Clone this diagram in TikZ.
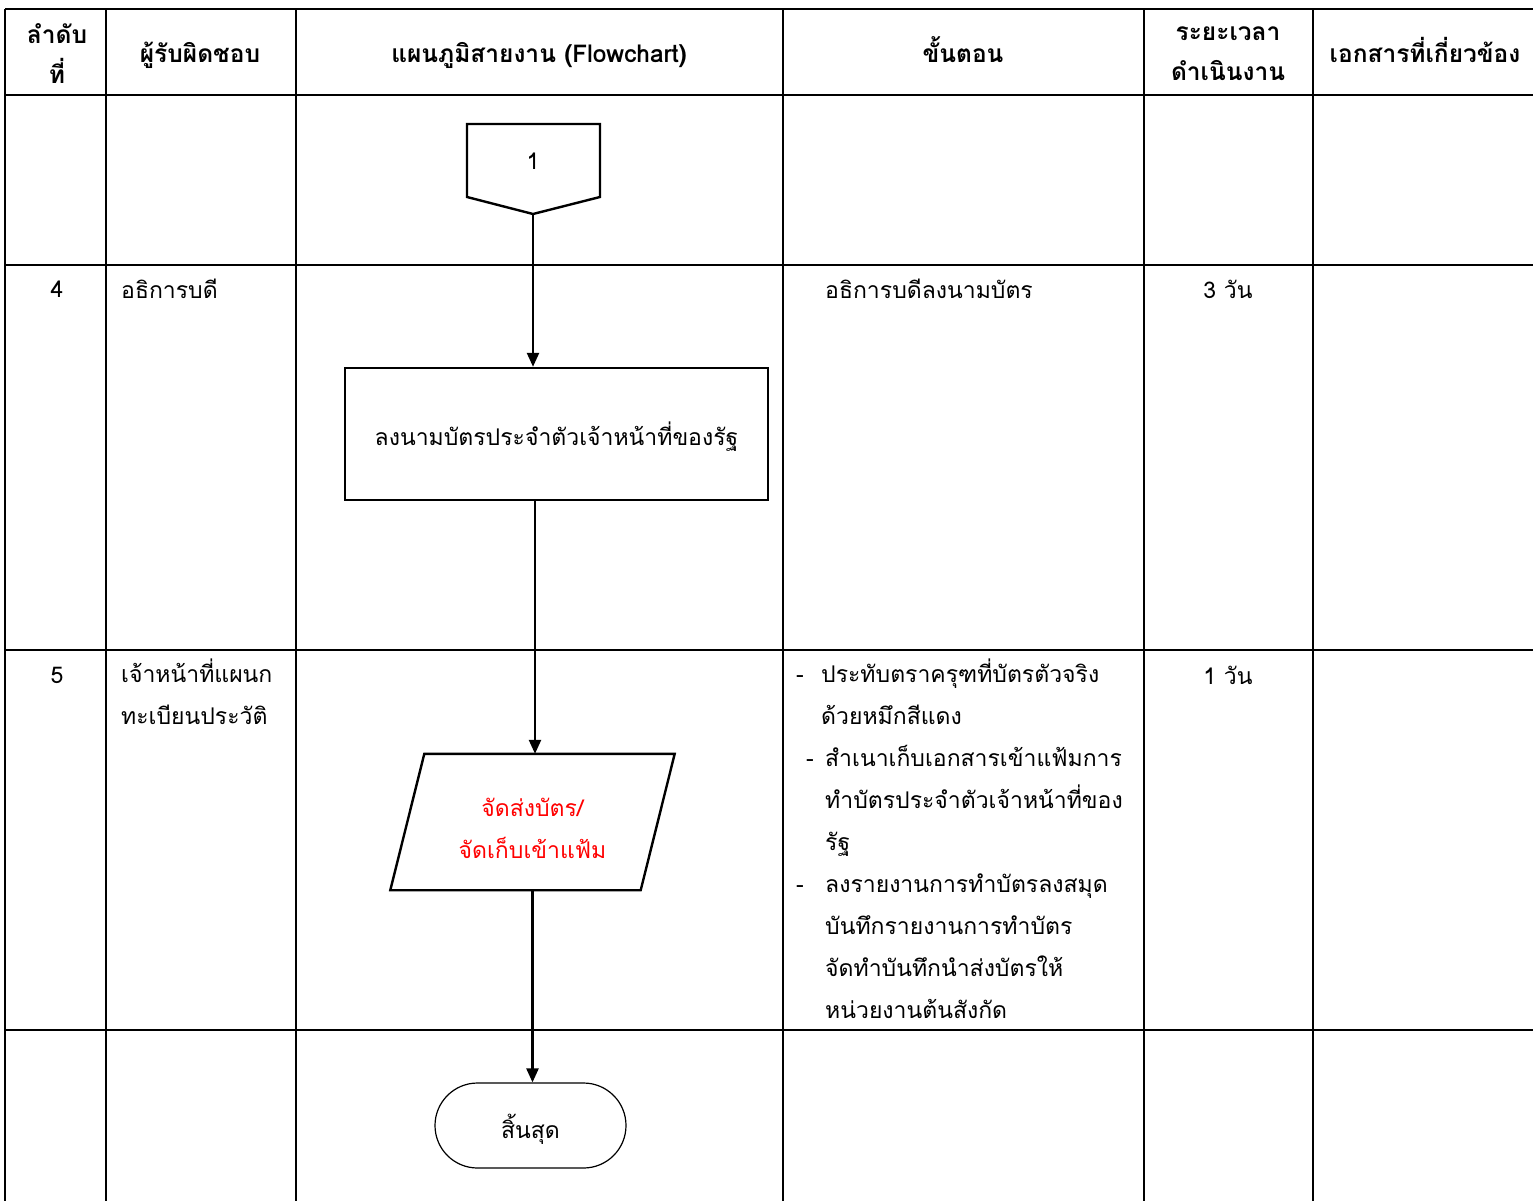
\documentclass[tikz,border=0pt]{standalone}
\usepackage{fontspec}
\setmainfont[Script=Thai]{Loma}
\usetikzlibrary{arrows.meta,shapes.misc}

\tikzset{
  tablerule/.style={line width=2pt},
  flowline/.style={line width=2.4pt, -{Triangle[length=14pt,width=12pt]}},
  shapeline/.style={draw, line width=2.4pt},
  head/.style={font=\bfseries\fontsize{24.5}{40}\selectfont, align=center},
  cell/.style={font=\fontsize{23}{42}\selectfont, inner sep=0pt},
}

\begin{document}
\begin{tikzpicture}[x=1pt, y=-1pt]
  \useasboundingbox (0,0) rectangle (1533,1201);
  \fill[white] (0,0) rectangle (1533,1201);

  % table grid
  \foreach \yy in {9,95,265,650,1030}
    \draw[tablerule] (5,\yy) -- (1533,\yy);
  \foreach \xx in {5,106,296,783,1144,1313}
    \draw[tablerule] (\xx,9) -- (\xx,1201);

  % header
  \node[head] (h-no)   at (57,54)   {ลำดับ\\ที่};
  \node[head, anchor=base] (h-resp) at (200,63)  {ผู้รับผิดชอบ};
  \node[head, anchor=base] (h-flow) at (539,63)  {แผนภูมิสายงาน (Flowchart)};
  \node[head, anchor=base] (h-step) at (963,63)  {ขั้นตอน};
  \node[head] (h-time) at (1228,54) {ระยะเวลา\\ดำเนินงาน};
  \node[head, anchor=base] (h-doc)  at (1425,63) {เอกสารที่เกี่ยวข้อง};

  % row 4
  \node[cell] (no4)   at (57,289)  {4};
  \node[cell, anchor=west] (resp4) at (121,289) {อธิการบดี};
  \node[cell, anchor=west] (step4) at (825,289) {อธิการบดีลงนามบัตร};
  \node[cell] (time4) at (1228,289) {3 วัน};

  % row 5
  \node[cell] (no5)   at (57,675)  {5};
  \node[cell, anchor=north west, align=left] (resp5) at (121,659) {เจ้าหน้าที่แผนก\\ทะเบียนประวัติ};
  \node[cell, anchor=north west, align=left] (step5) at (796,659)
    {\makebox[25pt][l]{-}ประทับตราครุฑที่บัตรตัวจริง\\
     \hspace*{25pt}ด้วยหมึกสีแดง\\
     \hspace*{10pt}\makebox[19pt][l]{-}สำเนาเก็บเอกสารเข้าแฟ้มการ\\
     \hspace*{29pt}ทำบัตรประจำตัวเจ้าหน้าที่ของ\\
     \hspace*{29pt}รัฐ\\
     \makebox[29pt][l]{-}ลงรายงานการทำบัตรลงสมุด\\
     \hspace*{29pt}บันทึกรายงานการทำบัตร\\
     \hspace*{29pt}จัดทำบันทึกนำส่งบัตรให้\\
     \hspace*{29pt}หน่วยงานต้นสังกัด};
  \node[cell] (time5) at (1228,675) {1 วัน};

  % flowchart
  \draw[line width=2.4pt] (467,124) -- (600,124) -- (600,197) -- (533,214) -- (467,197) -- cycle;
  \node[cell] (conn) at (533,161) {1};
  \coordinate (conn-tip) at (533,214);

  \node[shapeline, cell, minimum width=423pt, minimum height=132pt,
        label={[cell, yshift=-3pt]center:ลงนามบัตรประจำตัวเจ้าหน้าที่ของรัฐ}] (sign) at (556.5,434) {};

  \node[cell, minimum width=250pt, minimum height=136pt,
        label={[cell, text=red, align=center, yshift=-6pt]center:จัดส่งบัตร/\\จัดเก็บเข้าแฟ้ม}] (send) at (532.5,822) {};
  \draw[line width=2.4pt] ([xshift=17pt]send.north west) -- ([xshift=17pt]send.north east)
    -- ([xshift=-17pt]send.south east) -- ([xshift=-17pt]send.south west) -- cycle;

  \node[draw, line width=1.2pt, cell, rounded rectangle, minimum width=191pt, minimum height=85pt,
        label={[cell, yshift=-4pt]center:สิ้นสุด}] (finish) at (530.5,1125.5) {};

  \draw[flowline] (conn-tip) -- (sign.north -| conn-tip);
  \draw[flowline] (sign.south -| 535,0) -- (send.north -| 535,0);
  \draw[flowline] (send.south) -- (finish.north -| send.south);
\end{tikzpicture}
\end{document}
